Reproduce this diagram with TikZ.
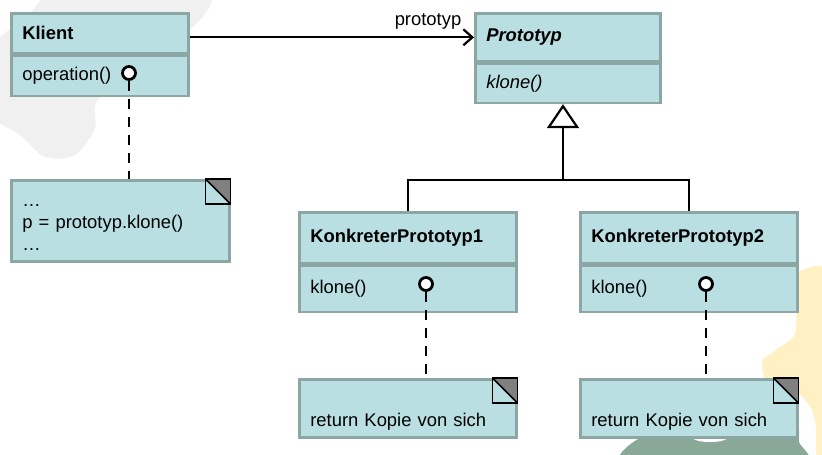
\documentclass[tikz,border=0pt]{standalone}
\usepackage{fontspec}
\setmainfont{Liberation Sans}
\usetikzlibrary{positioning,arrows.meta}

\definecolor{umlfill}{RGB}{185,223,226}
\definecolor{umlline}{RGB}{140,166,166}
\definecolor{foldgray}{RGB}{128,128,128}
\definecolor{bggray}{RGB}{240,240,240}
\definecolor{bgyellow}{RGB}{255,241,196}
\definecolor{bggreen}{RGB}{138,168,152}
\newcommand{\umlsize}{\fontsize{9.2}{11}\selectfont}

\tikzset{
  umlbox/.style={draw=umlline, fill=umlfill, line width=1.3pt, anchor=north west,
    inner xsep=5.5pt, inner ysep=0pt, align=left, text width=#1, font=\umlsize},
  head/.style={umlbox=#1, font=\umlsize\bfseries},
  note/.style={umlbox=#1},
  port/.style={circle, draw=black, fill=white, line width=1.4pt, minimum size=6.5pt, inner sep=0pt},
  link/.style={draw=black, line width=1.1pt},
  fold/.style={draw=black, line width=0.8pt}
}

\begin{document}
\begin{tikzpicture}[x=0.5pt,y=-0.5pt]
    \useasboundingbox (0,0) rectangle (822,454);
    % background blobs
    \begin{scope}
        \clip (0,0) rectangle (822,454);
        \fill[bggray] plot[smooth cycle] coordinates {(-10,50) (28,16) (60,-8) (202,-8) (200,20) (150,60) (98,100) (95,128) (75,155) (45,157) (20,135) (-10,112)};
        \fill[bgyellow] plot[smooth cycle] coordinates {(790,278) (822,266) (840,300) (840,465) (818,465) (815,420) (800,395) (770,388) (762,362) (776,350) (795,334) (795,300)};
        \fill[white] plot[smooth cycle] coordinates {(797,396) (812,410) (816,440) (813,465) (796,465) (799,430)};
        \fill[bggreen] plot[smooth cycle] coordinates {(628,465) (640,438) (700,428) (790,422) (799,442) (799,465)};
        \fill[white] (710,438) ellipse (17 and 4);
    \end{scope}

    % classes
    \node[head=77.5pt, minimum height=20pt] (klient) at (10,12) {Klient};
    \node[umlbox=77.5pt, minimum height=20pt, below=0pt of klient] (klientbody) {operation()};
    \node[head=81.5pt, minimum height=24pt, font=\umlsize\bfseries\itshape] (proto) at (474,12) {Prototyp};
    \node[umlbox=81.5pt, minimum height=19.5pt, below=0pt of proto, font=\umlsize\itshape] (protobody) {klone()};
    \node[head=97.5pt, minimum height=25.5pt] (kp1) at (298,211) {KonkreterPrototyp1};
    \node[umlbox=97.5pt, minimum height=23pt, below=0pt of kp1] (kp1body) {klone()};
    \node[head=97.5pt, minimum height=25.5pt] (kp2) at (579,211) {KonkreterPrototyp2};
    \node[umlbox=97.5pt, minimum height=23pt, below=0pt of kp2] (kp2body) {klone()};

    % notes
    \node[note=98pt, minimum height=40.5pt] (klientnote) at (10,179) {\strut\dots\\p = prototyp.klone()\\\dots};
    \node[note=97.5pt, minimum height=29pt] (kp1note) at (298,378) {\strut\\[1pt]return Kopie von sich};
    \node[note=97.5pt, minimum height=29pt] (kp2note) at (579,378) {\strut\\[1pt]return Kopie von sich};
    \foreach \n in {klientnote,kp1note,kp2note} {
        \fill[foldgray] ([xshift=-12.5pt]\n.north east) -- (\n.north east) -- ([yshift=-12.5pt]\n.north east) -- cycle;
        \draw[fold] ([xshift=-12.5pt]\n.north east) rectangle ([yshift=-12.5pt]\n.north east);
        \draw[fold] ([xshift=-12.5pt]\n.north east) -- ([yshift=-12.5pt]\n.north east);
    }

    % note anchors
    \node[port] (klientport) at (129,73) {};
    \node[port] (kp1port) at (426,284) {};
    \node[port] (kp2port) at (706,284) {};
    \draw[link, dash pattern=on 5pt off 4pt] (klientport) -- (klientport |- klientnote.north);
    \draw[link, dash pattern=on 5pt off 4pt] (kp1port) -- (kp1port |- kp1note.north);
    \draw[link, dash pattern=on 5pt off 4pt] (kp2port) -- (kp2port |- kp2note.north);

    % association
    \draw[link, -{Straight Barb[length=4.5pt, width=8pt]}] (klient.east |- proto.west) -- (proto.west)
        node[pos=1, above left, xshift=-2.5pt, font=\umlsize] {prototyp};

    % inheritance
    \coordinate (fork) at (563,180);
    \draw[link, -{Triangle[length=12pt, width=16pt, fill=white]}] (fork) -- (fork |- protobody.south);
    \draw[link] (kp1.north) |- (fork) -| (kp2.north);
\end{tikzpicture}
\end{document}
